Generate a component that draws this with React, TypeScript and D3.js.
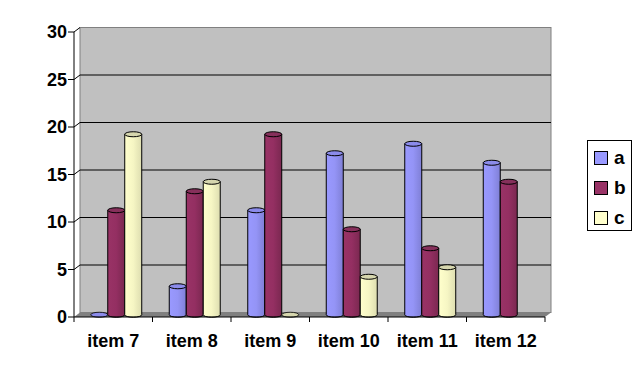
import * as d3 from "d3";

const categories = ["item 7", "item 8", "item 9", "item 10", "item 11", "item 12"];
const seriesNames = ["a", "b", "c"];
const valuesA = [0, 3, 11, 17, 18, 16];
const valuesB = [11, 13, 19, 9, 7, 14];
const valuesC: (number | null)[] = [19, 14, 0, 4, 5, null];
const yTicks = [0, 5, 10, 15, 20, 25, 30];

const W = 642;
const H = 371;
const left = 74;
const right = 545;
const bottom = 317;
const top = 32;
const DX = 6;
const DY = -4.5;

const colors: Record<string, { base: string; mid: string; dark: string; cap: string }> = {
  a: { base: "#9999FF", mid: "#9494F6", dark: "#7F7FD6", cap: "#8B8BEA" },
  b: { base: "#993366", mid: "#942F62", dark: "#7A2850", cap: "#86305B" },
  c: { base: "#FFFFCC", mid: "#F6F6C4", dark: "#DDDDB0", cap: "#D6D6AE" },
};

const font = "'Liberation Sans', Arial, sans-serif";

export default function App() {
  const y = d3.scaleLinear().domain([0, 30]).range([bottom, top]);
  const x0 = d3.scaleBand().domain(categories).range([left, right]).padding(0);
  const x1 = d3
    .scaleBand()
    .domain(seriesNames)
    .range([0, x0.bandwidth()])
    .paddingInner(0)
    .paddingOuter(0.81);

  const data = categories.map((cat, i) => ({
    cat,
    vals: [
      { s: "a", v: valuesA[i] },
      { s: "b", v: valuesB[i] },
      { s: "c", v: valuesC[i] },
    ],
  }));

  const bw = x1.bandwidth();
  const ry = 2.5;

  return (
    <svg
      width={W}
      height={H}
      style={{ position: "absolute", left: 0, top: 0, background: "#fff" }}
    >
      <defs>
        {seriesNames.map((s) => (
          <linearGradient key={s} id={"g-" + s} x1="0" x2="1" y1="0" y2="0">
            <stop offset="0" stopColor={colors[s].base} />
            <stop offset="0.5" stopColor={colors[s].mid} />
            <stop offset="1" stopColor={colors[s].dark} />
          </linearGradient>
        ))}
      </defs>

      {/* back wall */}
      <rect
        x={left + DX}
        y={top + DY}
        width={right - left}
        height={bottom - top}
        fill="#C0C0C0"
        stroke="#808080"
        strokeWidth={1}
      />
      {/* floor */}
      <polygon
        points={`${left},${bottom} ${right},${bottom} ${right + DX},${bottom + DY} ${left + DX},${bottom + DY}`}
        fill="#808080"
      />

      {/* gridlines */}
      {yTicks
        .filter((t) => t > 0)
        .map((t) => (
          <g key={t}>
            <line
              x1={left}
              y1={y(t)}
              x2={left + DX}
              y2={y(t) + DY}
              stroke="#000"
            />
            {t < 30 && (
              <line
                x1={left + DX}
                y1={y(t) + DY}
                x2={right + DX}
                y2={y(t) + DY}
                stroke="#000"
              />
            )}
          </g>
        ))}

      {/* cylinders */}
      {data.map((d) =>
        d.vals.map(({ s, v }) => {
          if (v === null) return null;
          const xl = (x0(d.cat) ?? 0) + (x1(s) ?? 0) + DX / 2;
          const xr = xl + bw;
          const cx = xl + bw / 2;
          const yb = y(0) + DY / 2;
          const yt = y(v) + DY / 2;
          if (v === 0) {
            return (
              <ellipse
                key={d.cat + s}
                cx={cx}
                cy={yb}
                rx={bw / 2}
                ry={ry}
                fill={colors[s].cap}
                stroke="#000"
                strokeWidth={0.8}
              />
            );
          }
          return (
            <g key={d.cat + s}>
              <path
                d={`M${xl},${yt} L${xl},${yb} A${bw / 2},${ry} 0 0 0 ${xr},${yb} L${xr},${yt} Z`}
                fill={`url(#g-${s})`}
                stroke="#000"
                strokeWidth={1}
              />
              <ellipse
                cx={cx}
                cy={yt}
                rx={bw / 2}
                ry={ry}
                fill={colors[s].cap}
                stroke="#000"
                strokeWidth={1}
              />
            </g>
          );
        })
      )}

      {/* axes */}
      <line x1={left} y1={top} x2={left} y2={bottom} stroke="#000" />
      <line x1={left} y1={bottom} x2={right} y2={bottom} stroke="#000" />
      {yTicks.map((t) => (
        <g key={t}>
          <line x1={left - 6} y1={y(t)} x2={left} y2={y(t)} stroke="#000" />
          <text
            x={left - 7}
            y={y(t)}
            dy="0.36em"
            textAnchor="end"
            fontFamily={font}
            fontWeight="bold"
            fontSize={18}
          >
            {t}
          </text>
        </g>
      ))}
      {[...categories.map((c) => x0(c) ?? 0), right].map((xv, i) => (
        <line key={i} x1={xv} y1={bottom} x2={xv} y2={bottom + 5} stroke="#000" />
      ))}
      {categories.map((c) => (
        <text
          key={c}
          x={(x0(c) ?? 0) + x0.bandwidth() / 2}
          y={347}
          textAnchor="middle"
          fontFamily={font}
          fontWeight="bold"
          fontSize={18}
        >
          {c}
        </text>
      ))}

      {/* legend */}
      <rect x={587.5} y={140.5} width={44} height={90} fill="#fff" stroke="#000" />
      {seriesNames.map((s, i) => (
        <g key={s}>
          <rect
            x={594.5}
            y={151.5 + i * 30}
            width={13}
            height={13}
            fill={colors[s].base}
            stroke="#000"
          />
          <text
            x={614}
            y={164 + i * 30}
            fontFamily={font}
            fontWeight="bold"
            fontSize={19}
          >
            {s}
          </text>
        </g>
      ))}
    </svg>
  );
}
